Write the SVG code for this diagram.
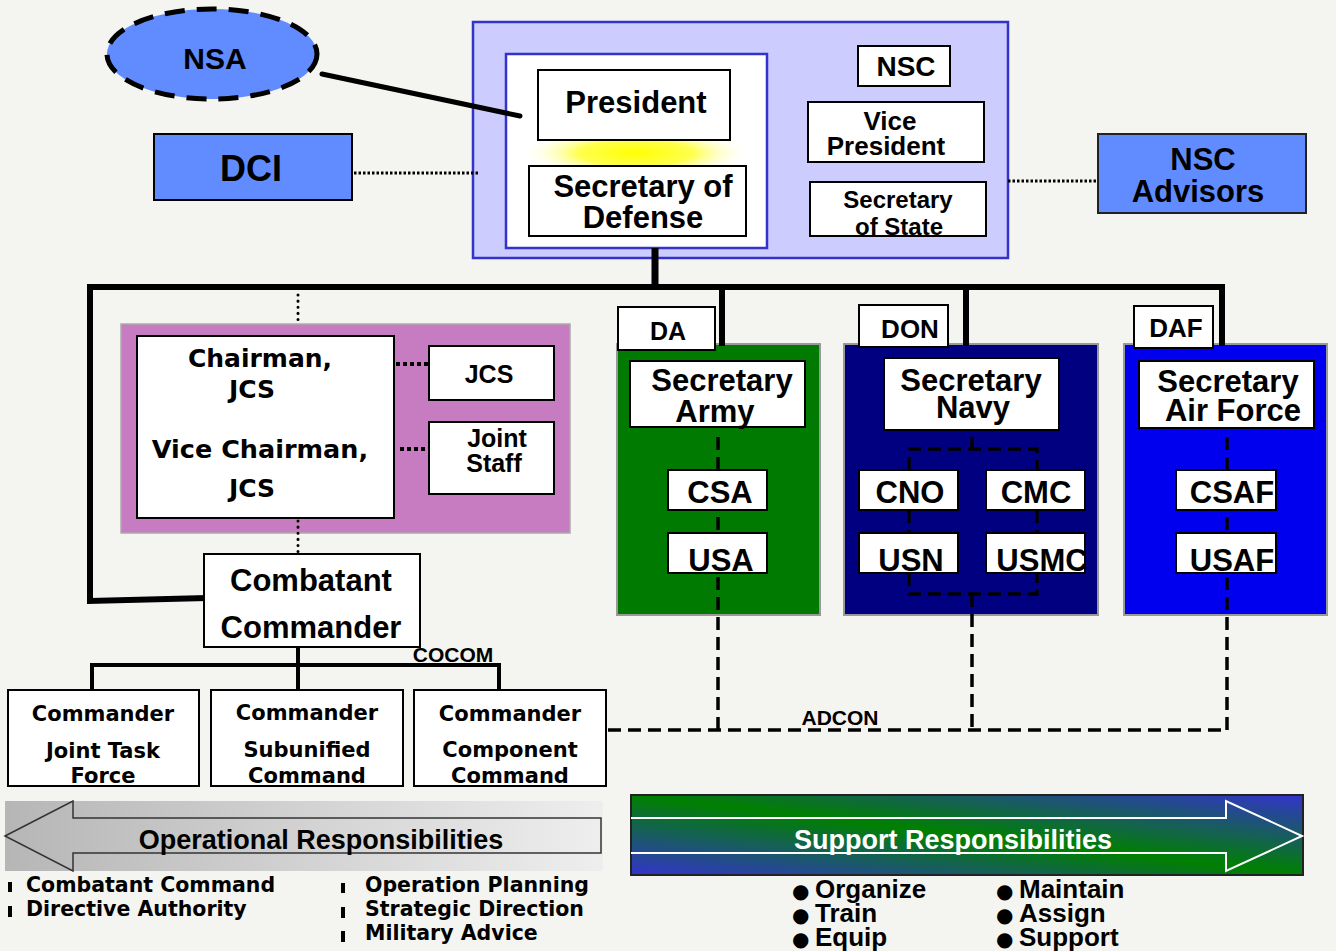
<svg xmlns="http://www.w3.org/2000/svg" width="1336" height="951" viewBox="0 0 1336 951">
<defs>
<radialGradient id="glow" cx="0.5" cy="0.5" r="0.5">
<stop offset="0" stop-color="#ffff00"/>
<stop offset="0.5" stop-color="#ffff30" stop-opacity="0.85"/>
<stop offset="1" stop-color="#ffffff" stop-opacity="0"/>
</radialGradient>
<linearGradient id="opg" x1="0" y1="0" x2="1" y2="0">
<stop offset="0" stop-color="#b6b6b6"/>
<stop offset="1" stop-color="#eeeeee"/>
</linearGradient>
<linearGradient id="spg" x1="0" y1="1" x2="1" y2="0">
<stop offset="0" stop-color="#3333cc"/>
<stop offset="0.5" stop-color="#008000"/>
<stop offset="1" stop-color="#3333cc"/>
</linearGradient>
<style>
.a{font-family:"Liberation Sans",Arial,sans-serif;font-weight:bold;text-anchor:middle;fill:#000}
.d{font-family:"DejaVu Sans",Verdana,sans-serif;font-weight:bold;text-anchor:middle;fill:#000}
.l{text-anchor:start}
.bu{font-family:"DejaVu Sans",sans-serif;font-size:20px}
.box{fill:#fff;stroke:#000;stroke-width:2}
.panel{stroke:#999;stroke-width:2}
.thick{fill:none;stroke:#000;stroke-width:6;stroke-linecap:square}
.mid{fill:none;stroke:#000;stroke-width:4}
.dot{fill:none;stroke:#000;stroke-width:3;stroke-dasharray:2.5 2}
.rdot{fill:none;stroke:#000;stroke-width:3;stroke-dasharray:0.1 6;stroke-linecap:round}
.sdot{fill:none;stroke:#000;stroke-width:4;stroke-dasharray:4 3}
.dash{fill:none;stroke:#000;stroke-width:3.5;stroke-dasharray:13 7}
</style>
</defs>
<rect x="0" y="0" width="1336" height="951" fill="#f4f5f0"/>

<g id="nsc-group">
<rect x="473" y="22" width="535" height="236" fill="#ccccfe" stroke="#3333cc" stroke-width="2.5"/>
<rect x="506" y="54" width="261" height="194" fill="#fff" stroke="#3333cc" stroke-width="2.5"/>
<ellipse cx="636" cy="153" rx="115" ry="26" fill="url(#glow)"/>
</g>

<g id="jcs-panel"><rect x="121" y="324" width="449" height="209" fill="#c77cc1" stroke="#aaa" stroke-width="1.5"/></g>
<g id="da-panel"><rect class="panel" x="617" y="344" width="203" height="271" fill="#007a00"/></g>
<g id="don-panel"><rect class="panel" x="844" y="344" width="254" height="271" fill="#000080"/></g>
<g id="daf-panel"><rect class="panel" x="1124" y="344" width="203" height="271" fill="#0000ee"/></g>

<g id="connectors">
<line x1="322" y1="74" x2="520" y2="116" stroke="#000" stroke-width="5" stroke-linecap="round"/>
<line class="dot" x1="354" y1="173" x2="478" y2="173"/>
<line class="dot" x1="1008" y1="181" x2="1098" y2="181"/>
<line x1="655" y1="248" x2="655" y2="290" stroke="#000" stroke-width="7"/>
<polyline class="thick" points="1222,343 1222,287 90,287 90,601 204,598"/>
<line class="thick" x1="722" y1="287" x2="722" y2="343"/>
<line class="thick" x1="966" y1="287" x2="966" y2="343"/>
<line class="rdot" x1="298" y1="295" x2="298" y2="324"/>
<line class="rdot" x1="298" y1="521" x2="298" y2="553"/>
<line class="sdot" x1="396" y1="364" x2="429" y2="364"/>
<line class="sdot" x1="400" y1="449" x2="427" y2="449"/>
<polyline class="mid" points="298,647 298,665"/>
<polyline class="mid" points="92,690 92,665 499,665 499,690"/>
<line class="mid" x1="298" y1="665" x2="298" y2="690"/>
<line class="dash" x1="718" y1="437" x2="718" y2="730"/>
<line class="dash" x1="1227" y1="437" x2="1227" y2="730"/>
<line class="dash" x1="608" y1="730" x2="1227" y2="730"/>
<polyline class="dash" points="909,470 909,449 1037,449 1037,470"/>
<line class="dash" x1="972" y1="437" x2="972" y2="449"/>
<line class="dash" x1="909" y1="510" x2="909" y2="534"/>
<line class="dash" x1="1037" y1="510" x2="1037" y2="534"/>
<polyline class="dash" points="909,573 909,594 1037,594 1037,573"/>
<line class="dash" x1="972" y1="594" x2="972" y2="730"/>
<text class="a" x="453" y="662" font-size="21">COCOM</text>
<text class="a" x="840" y="725" font-size="21">ADCON</text>
</g>

<g id="nsa">
<ellipse cx="212" cy="54" rx="105" ry="45" fill="#608cff" stroke="#000" stroke-width="5" stroke-dasharray="20 12"/>
<text class="a" x="215" y="69" font-size="30">NSA</text>
</g>
<g id="dci">
<rect x="154" y="134" width="198" height="66" fill="#608cff" stroke="#000" stroke-width="2"/>
<text class="a" x="251" y="181" font-size="36">DCI</text>
</g>
<g id="president">
<rect class="box" x="538" y="70" width="192" height="70"/>
<text class="a" x="636" y="113" font-size="31">President</text>
</g>
<g id="secdef">
<rect class="box" x="529" y="166" width="217" height="70"/>
<text class="a" x="643" y="197" font-size="31">Secretary of</text>
<text class="a" x="643" y="228" font-size="31">Defense</text>
</g>
<g id="nsc">
<rect class="box" x="858" y="46" width="92" height="40"/>
<text class="a" x="906" y="76" font-size="28">NSC</text>
</g>
<g id="vp">
<rect class="box" x="808" y="102" width="176" height="60"/>
<text class="a" x="890" y="130" font-size="26">Vice</text>
<text class="a" x="886" y="155" font-size="26">President</text>
</g>
<g id="sos">
<rect class="box" x="810" y="182" width="176" height="54"/>
<text class="a" x="898" y="208" font-size="24">Secretary</text>
<text class="a" x="899" y="235" font-size="24">of State</text>
</g>
<g id="nsc-advisors">
<rect x="1098" y="134" width="208" height="79" fill="#608cff" stroke="#222" stroke-width="2"/>
<text class="a" x="1203" y="170" font-size="31">NSC</text>
<text class="a" x="1198" y="202" font-size="31">Advisors</text>
</g>

<g id="chairman">
<rect class="box" x="137" y="336" width="257" height="182"/>
<text class="d" x="260" y="367" font-size="25">Chairman,</text>
<text class="d" x="252" y="398" font-size="25">JCS</text>
<text class="d" x="260" y="458" font-size="25.5">Vice Chairman,</text>
<text class="d" x="252" y="497" font-size="25">JCS</text>
</g>
<g id="jcs">
<rect class="box" x="429" y="346" width="125" height="54"/>
<text class="a" x="489" y="383" font-size="25">JCS</text>
</g>
<g id="joint-staff">
<rect class="box" x="429" y="422" width="125" height="72"/>
<text class="a" x="497" y="447" font-size="25">Joint</text>
<text class="a" x="494" y="472" font-size="25">Staff</text>
</g>
<g id="combatant-commander">
<rect class="box" x="204" y="554" width="216" height="93"/>
<text class="a" x="311" y="591" font-size="31">Combatant</text>
<text class="a" x="311" y="638" font-size="31">Commander</text>
</g>

<g id="cdr-jtf">
<rect class="box" x="8" y="690" width="191" height="96"/>
<text class="d" x="103" y="721" font-size="21">Commander</text>
<text class="d" x="103" y="758" font-size="21">Joint Task</text>
<text class="d" x="103" y="783" font-size="21">Force</text>
</g>
<g id="cdr-sub">
<rect class="box" x="211" y="690" width="192" height="96"/>
<text class="d" x="307" y="720" font-size="21">Commander</text>
<text class="d" x="307" y="757" font-size="21">Subunified</text>
<text class="d" x="307" y="783" font-size="21">Command</text>
</g>
<g id="cdr-comp">
<rect class="box" x="414" y="690" width="192" height="96"/>
<text class="d" x="510" y="721" font-size="21">Commander</text>
<text class="d" x="510" y="757" font-size="21">Component</text>
<text class="d" x="510" y="783" font-size="21">Command</text>
</g>

<g id="da">
<rect class="box" x="618" y="307" width="97" height="43"/>
<text class="a" x="668" y="340" font-size="25">DA</text>
<rect class="box" x="630" y="361" width="175" height="66"/>
<text class="a" x="722" y="391" font-size="31">Secretary</text>
<text class="a" x="715" y="422" font-size="31">Army</text>
</g>
<g id="csa"><rect class="box" x="668" y="470" width="99" height="40"/><text class="a" x="720" y="503" font-size="31">CSA</text></g>
<g id="usa"><rect class="box" x="668" y="533" width="99" height="40"/><text class="a" x="721" y="571" font-size="31">USA</text></g>

<g id="don">
<rect class="box" x="859" y="305" width="89" height="42"/>
<text class="a" x="910" y="338" font-size="26">DON</text>
<rect class="box" x="884" y="358" width="175" height="72"/>
<text class="a" x="971" y="391" font-size="31">Secretary</text>
<text class="a" x="973" y="418" font-size="31">Navy</text>
</g>
<g id="cno"><rect class="box" x="859" y="470" width="99" height="40"/><text class="a" x="910" y="503" font-size="31">CNO</text></g>
<g id="cmc"><rect class="box" x="986" y="470" width="99" height="40"/><text class="a" x="1036" y="503" font-size="31">CMC</text></g>
<g id="usn"><rect class="box" x="859" y="533" width="99" height="40"/><text class="a" x="911" y="571" font-size="31">USN</text></g>
<g id="usmc"><rect class="box" x="986" y="533" width="99" height="40"/><text class="a" x="1042" y="571" font-size="31">USMC</text></g>

<g id="daf">
<rect class="box" x="1134" y="306" width="79" height="42"/>
<text class="a" x="1176" y="337" font-size="26">DAF</text>
<rect class="box" x="1139" y="361" width="175" height="67"/>
<text class="a" x="1228" y="392" font-size="31">Secretary</text>
<text class="a" x="1233" y="421" font-size="31">Air Force</text>
</g>
<g id="csaf"><rect class="box" x="1176" y="470" width="100" height="40"/><text class="a" x="1232" y="503" font-size="31">CSAF</text></g>
<g id="usaf"><rect class="box" x="1176" y="533" width="100" height="40"/><text class="a" x="1232" y="571" font-size="31">USAF</text></g>

<g id="operational">
<rect x="5" y="801" width="598" height="70" fill="url(#opg)"/>
<polygon points="5,836 73,801 73,818 601,818 601,853 73,853 73,871" fill="none" stroke="#333" stroke-width="1.5"/>
<text class="a" x="321" y="849" font-size="27">Operational Responsibilities</text>
<rect x="8" y="882" width="4" height="10"/>
<rect x="8" y="906" width="4" height="11"/>
<rect x="341" y="883" width="4" height="10"/>
<rect x="341" y="907" width="4" height="11"/>
<rect x="341" y="931" width="4" height="11"/>
<text class="d l" x="26" y="892" font-size="20.5">Combatant Command</text>
<text class="d l" x="26" y="916" font-size="20.5">Directive Authority</text>
<text class="d l" x="365" y="892" font-size="20.5">Operation Planning</text>
<text class="d l" x="365" y="916" font-size="20.5">Strategic Direction</text>
<text class="d l" x="365" y="940" font-size="20.5">Military Advice</text>
</g>

<g id="support">
<rect x="631" y="795" width="672" height="80" fill="url(#spg)" stroke="#222" stroke-width="2"/>
<polyline points="631,818 1226,818 1226,801 1302,836 1226,871 1226,853 631,853" fill="none" stroke="#fff" stroke-width="2"/>
<text class="a" x="953" y="849" font-size="27" style="fill:#fff">Support Responsibilities</text>
<text class="a l" x="792" y="898" font-size="26"><tspan class="bu">●</tspan><tspan x="815">Organize</tspan></text>
<text class="a l" x="792" y="922" font-size="26"><tspan class="bu">●</tspan><tspan x="815">Train</tspan></text>
<text class="a l" x="792" y="946" font-size="26"><tspan class="bu">●</tspan><tspan x="815">Equip</tspan></text>
<text class="a l" x="996" y="898" font-size="26"><tspan class="bu">●</tspan><tspan x="1019">Maintain</tspan></text>
<text class="a l" x="996" y="922" font-size="26"><tspan class="bu">●</tspan><tspan x="1019">Assign</tspan></text>
<text class="a l" x="996" y="946" font-size="26"><tspan class="bu">●</tspan><tspan x="1019">Support</tspan></text>
</g>
</svg>
